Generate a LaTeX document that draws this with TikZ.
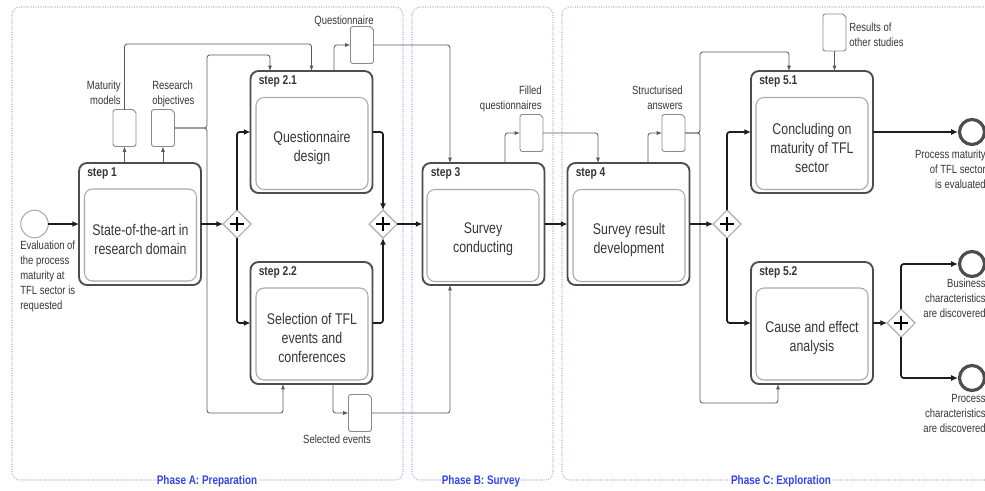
\documentclass[tikz,border=0pt]{standalone}
\usepackage{fontspec}
\setmainfont{Liberation Sans}[FakeStretch=0.8]
\usetikzlibrary{arrows.meta,shapes.geometric,calc}
\definecolor{boxline}{HTML}{4D4D4D}
\definecolor{innerline}{HTML}{AAAAAA}
\definecolor{txt}{HTML}{363636}
\definecolor{phaseline}{HTML}{AEB6F5}
\definecolor{phasetxt}{HTML}{3344EE}
\definecolor{flow}{HTML}{1E1E1E}
\definecolor{assoc}{HTML}{5A5A5A}
\definecolor{dobjline}{HTML}{8A8A8A}
\newlength\PXU \setlength\PXU{0.75pt}
\newcommand\dataobjoutline[1]{%
  \draw[draw=dobjline, line width=0.7pt, rounded corners=1.8pt]
    (#1.south east) -- (#1.south west) -- (#1.north west) --
    ([xshift=-4.5pt]#1.north east) to[out=0,in=90] ([yshift=-4.5pt]#1.north east) -- cycle;}
\begin{document}
\begin{tikzpicture}[x=0.75pt,y=-0.75pt,
  outerbox/.style={draw=boxline, line width=1.4pt, rounded corners=6pt, minimum width=122\PXU,
    minimum height=122\PXU, inner sep=0, outer sep=0, fill=white},
  innerbox/.style={draw=innerline, line width=0.8pt, rounded corners=6pt, minimum width=112\PXU,
    minimum height=92\PXU, inner sep=0},
  boxtext/.style={inner sep=0, align=center, text=txt, font=\fontsize{11.6}{14.25}\selectfont},
  steplabel/.style={anchor=west, font=\bfseries\fontsize{9.6}{11}\selectfont, inner sep=0, text=txt},
  gate/.style={diamond, draw=gray!65, line width=0.8pt, minimum width=28\PXU, minimum height=28\PXU,
    inner sep=0, outer sep=0, fill=white,
    path picture={\draw[line width=1.5pt, black]
      ([xshift=-5.2pt]path picture bounding box.center) -- ([xshift=5.2pt]path picture bounding box.center)
      ([yshift=-5.2pt]path picture bounding box.center) -- ([yshift=5.2pt]path picture bounding box.center);}},
  dobj/.style={minimum width=23\PXU, minimum height=37\PXU, inner sep=0, outer sep=0},
  flowline/.style={draw=flow, line width=1.3pt, rounded corners=2pt, -{Latex[length=5pt,width=4.5pt]}},
  assocline/.style={draw=assoc, line width=0.6pt, rounded corners=2pt, -{Latex[length=4pt,width=3pt]}},
  smalltxt/.style={font=\fontsize{8.9}{11.25}\selectfont, inner sep=0, text=txt},
  phase/.style={draw=phaseline, densely dotted, line width=0.8pt, rounded corners=6pt},
  phaselabel/.style={fill=white, text=phasetxt, font=\bfseries\fontsize{9.3}{11}\selectfont, inner sep=1pt},
  endev/.style={circle, draw=boxline, line width=2.4pt, minimum size=25\PXU, inner sep=0, outer sep=1.2pt},
  startev/.style={circle, draw=gray!65, line width=0.8pt, minimum size=27.5\PXU, inner sep=0, outer sep=0}
]
\useasboundingbox (0,0) rectangle (985,490);
\clip (0,0) rectangle (985,490);

% phases
\draw[phase] (12,7) rectangle (403,480);
\draw[phase] (412,7) rectangle (553,480);
\draw[phase] (562,7) rectangle (1010,480);
\node[phaselabel] (phA) at (207,481) {Phase A: Preparation};
\node[phaselabel] (phB) at (481,481) {Phase B: Survey};
\node[phaselabel] (phC) at (781,481) {Phase C: Exploration};

% events
\node[startev] (start) at (34.5,224) {};
\node[endev] (end1) at (972,132) {};
\node[endev] (end2) at (972,264) {};
\node[endev] (end3) at (972,378) {};

% steps
\node[outerbox] (s1) at (140,224) {};
\node[innerbox] (s1in) at (140.5,235) {};
\node[boxtext] (s1t) at ([yshift=-3pt]s1in.center) {State-of-the-art in\\research domain};
\node[steplabel] (s1l) at ([shift={(8,10)}]s1.north west) {step 1};

\node[outerbox] (s21) at (311.5,132) {};
\node[innerbox] (s21in) at (312,143.5) {};
\node[boxtext] (s21t) at ([yshift=-3pt]s21in.center) {Questionnaire\\design};
\node[steplabel] (s21l) at ([shift={(8,10)}]s21.north west) {step 2.1};

\node[outerbox] (s22) at (311.5,323) {};
\node[innerbox] (s22in) at (312,334) {};
\node[boxtext] (s22t) at ([yshift=-3pt]s22in.center) {Selection of TFL\\events and\\conferences};
\node[steplabel] (s22l) at ([shift={(8,10)}]s22.north west) {step 2.2};

\node[outerbox] (s3) at (483.5,224) {};
\node[innerbox] (s3in) at (483,235.5) {};
\node[boxtext] (s3t) at ([yshift=-3pt]s3in.center) {Survey\\conducting};
\node[steplabel] (s3l) at ([shift={(8,10)}]s3.north west) {step 3};

\node[outerbox] (s4) at (628.5,224) {};
\node[innerbox] (s4in) at (629,235.5) {};
\node[boxtext] (s4t) at ([yshift=-3pt]s4in.center) {Survey result\\development};
\node[steplabel] (s4l) at ([shift={(8,10)}]s4.north west) {step 4};

\node[outerbox] (s51) at (812,132) {};
\node[innerbox] (s51in) at (812,143.5) {};
\node[boxtext] (s51t) at ([yshift=-3pt]s51in.center) {Concluding on\\maturity of TFL\\sector};
\node[steplabel] (s51l) at ([shift={(8,10)}]s51.north west) {step 5.1};

\node[outerbox] (s52) at (812,323) {};
\node[innerbox] (s52in) at (812,334) {};
\node[boxtext] (s52t) at ([yshift=-3pt]s52in.center) {Cause and effect\\analysis};
\node[steplabel] (s52l) at ([shift={(8,10)}]s52.north west) {step 5.2};

% gateways
\node[gate] (g1) at (237,224) {};
\node[gate] (g2) at (383,224) {};
\node[gate] (g3) at (727,224) {};
\node[gate] (g4) at (901,323) {};

% data objects
\node[dobj] (dmm) at (124.5,128) {};
\node[dobj] (dro) at (163,128) {};
\node[dobj] (dq) at (362,45) {};
\node[dobj] (dse) at (360,413) {};
\node[dobj] (dfq) at (531.5,133) {};
\node[dobj] (dsa) at (673.5,133) {};
\node[dobj] (drs) at (834.5,32.5) {};
\dataobjoutline{dmm}
\dataobjoutline{dro}
\dataobjoutline{dq}
\dataobjoutline{dse}
\dataobjoutline{dfq}
\dataobjoutline{dsa}
\dataobjoutline{drs}

% labels
\node[smalltxt, anchor=north west, align=left] (lstart) at (20,241) {Evaluation of\\the process\\maturity at\\TFL sector is\\requested};
\node[smalltxt, anchor=south east, align=right] (lmm) at (121,105) {Maturity\\models};
\node[smalltxt, anchor=south west, align=left] (lro) at (152,107) {Research\\objectives};
\node[smalltxt, anchor=base] (lq) at (344,24) {Questionnaire};
\node[smalltxt, anchor=base] (lse) at (337,443) {Selected events};
\node[smalltxt, anchor=south east, align=right] (lfq) at (542,112) {Filled\\questionnaires};
\node[smalltxt, anchor=south east, align=right] (lsa) at (683,110) {Structurised\\answers};
\node[smalltxt, anchor=north west, align=left] (lrs) at (849,22.5) {Results of\\other studies};
\node[smalltxt, anchor=north east, align=right] (le1) at (986,150) {Process maturity\\of TFL sector\\is evaluated};
\node[smalltxt, anchor=north east, align=right] (le2) at (986,279) {Business\\characteristics\\are discovered};
\node[smalltxt, anchor=north east, align=right] (le3) at (986,394) {Process\\characteristics\\are discovered};

% bend coordinates
\coordinate (roA) at (207,55);
\coordinate (roB) at (270,55);
\coordinate (roC) at (207,413);
\coordinate (roD) at (283,413);
\coordinate (mmA) at (124.5,44);
\coordinate (qA) at (334,0);
\coordinate (qB) at (450,0);
\coordinate (seA) at (333,0);
\coordinate (fA) at (505,0);
\coordinate (fB) at (598,0);
\coordinate (sA) at (648,0);
\coordinate (sB) at (700,52);
\coordinate (sC) at (789,52);
\coordinate (sD) at (700,403);
\coordinate (sE) at (778,403);

% data associations
\draw[assocline] (s1.north -| dmm) -- (dmm.south);
\draw[assocline] (s1.north -| dro) -- (dro.south);
\draw[assocline] (dmm.north) -- (mmA) -- (mmA -| s21.north) -- (s21.north);
\draw[assocline] (dro.east) -| (roA) -- (roB) -- (roB |- s21.north);
\draw[assocline] (dro.east) -| (roC) -- (roD) -- (roD |- s22.south);
\draw[assocline] (qA |- s21.north) |- (dq.west);
\draw[assocline] (dq.east) -| (qB |- s3.north);
\draw[assocline] (seA |- s22.south) |- (dse.west);
\draw[assocline] (dse.east) -| (qB |- s3.south);
\draw[assocline] (fA |- s3.north) |- (dfq.west);
\draw[assocline] (dfq.east) -| (fB |- s4.north);
\draw[assocline] (sA |- s4.north) |- (dsa.west);
\draw[assocline] (dsa.east) -| (sB) -- (sC) -- (sC |- s51.north);
\draw[assocline] (dsa.east) -| (sD) -- (sE) -- (sE |- s52.south);
\draw[assocline] (drs.south) -- (drs.south |- s51.north);

% sequence flows
\draw[flowline] (start) -- (s1);
\draw[flowline] (s1) -- (g1);
\draw[flowline] (g1.north) |- (s21.west);
\draw[flowline] (g1.south) |- (s22.west);
\draw[flowline] (s21.east) -| (g2.north);
\draw[flowline] (s22.east) -| (g2.south);
\draw[flowline] (g2) -- (s3);
\draw[flowline] (s3) -- (s4);
\draw[flowline] (s4) -- (g3);
\draw[flowline] (g3.north) |- (s51.west);
\draw[flowline] (g3.south) |- (s52.west);
\draw[flowline] (s51) -- (end1);
\draw[flowline] (s52) -- (g4);
\draw[flowline] (g4.north) |- (end2.west);
\draw[flowline] (g4.south) |- (end3.west);
\end{tikzpicture}
\end{document}
